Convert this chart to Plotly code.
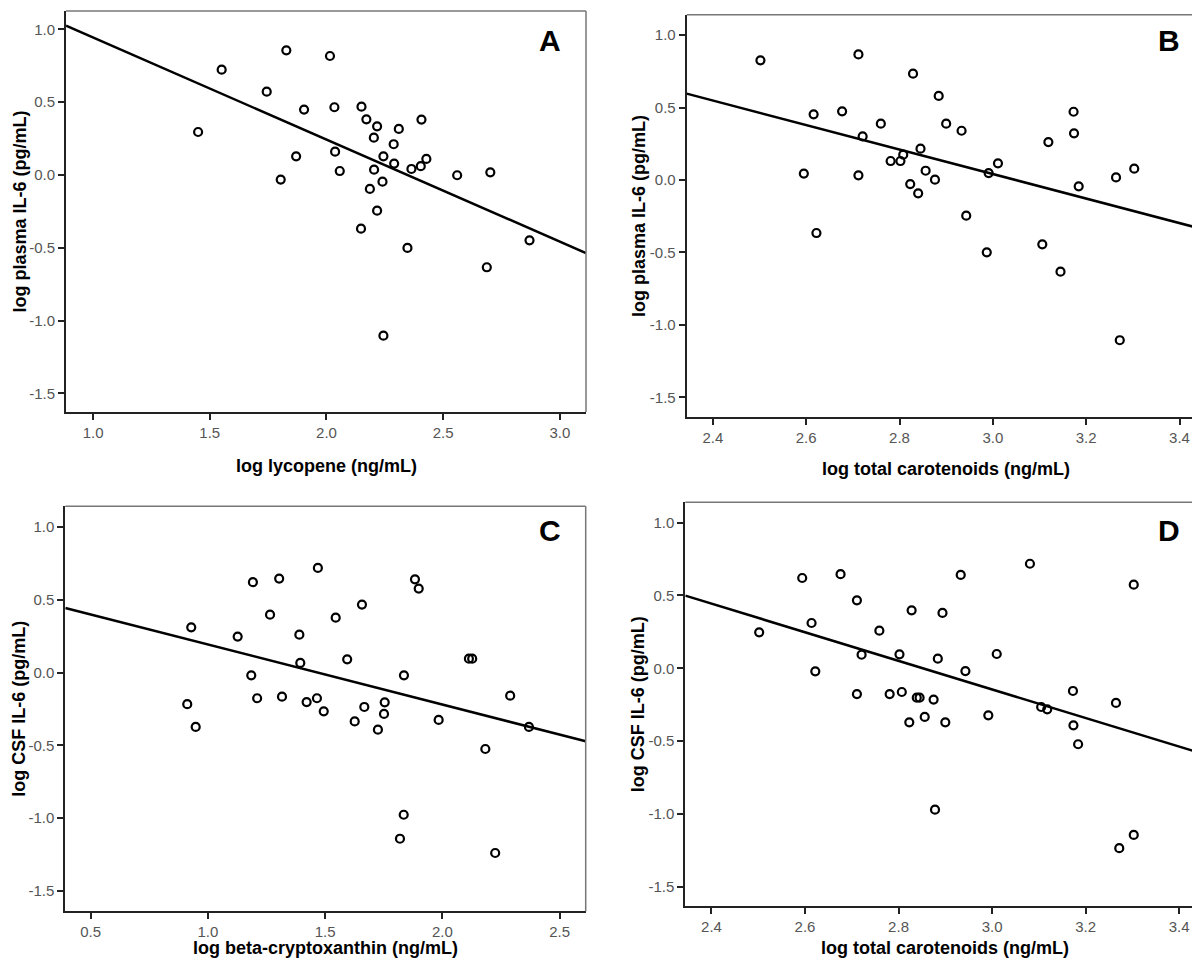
import plotly.graph_objects as go

# ---------------- data ----------------
# Panel A: log lycopene vs log plasma IL-6
a_x = [1.450, 1.551, 1.744, 1.828, 1.904, 1.870, 1.804, 2.015, 2.034, 2.150, 2.171, 2.217,
       2.203, 2.310, 2.407, 2.288, 2.037, 2.244, 2.057, 2.204, 2.290, 2.364, 2.404, 2.428,
       2.560, 2.702, 2.240, 2.186, 2.217, 2.148, 2.347, 2.687, 2.870, 2.244]
a_y = [0.295, 0.723, 0.572, 0.856, 0.449, 0.128, -0.032, 0.817, 0.465, 0.469, 0.382, 0.334,
       0.256, 0.316, 0.380, 0.211, 0.160, 0.128, 0.027, 0.036, 0.078, 0.041, 0.060, 0.110,
       -0.002, 0.018, -0.046, -0.096, -0.245, -0.369, -0.501, -0.634, -0.449, -1.104]
a_fit_x = [0.884, 3.112]
a_fit_y = [1.025, -0.536]

# Panel B: log total carotenoids vs log plasma IL-6
b_x = [2.502, 2.712, 2.616, 2.677, 2.760, 2.721, 2.781, 2.802, 2.808, 2.595, 2.712, 2.823,
       2.622, 2.829, 2.884, 2.900, 2.933, 2.845, 2.856, 2.876, 2.840, 2.991, 3.011, 2.943,
       3.119, 3.173, 3.174, 3.184, 3.264, 3.303, 2.987, 3.106, 3.145, 3.272]
b_y = [0.826, 0.867, 0.453, 0.474, 0.389, 0.301, 0.131, 0.131, 0.175, 0.044, 0.032, -0.028,
       -0.366, 0.734, 0.580, 0.389, 0.340, 0.216, 0.064, 0.002, -0.092, 0.048, 0.115, -0.246,
       0.262, 0.471, 0.322, -0.044, 0.018, 0.078, -0.499, -0.444, -0.633, -1.106]
b_fit_x = [2.344, 3.454]
b_fit_y = [0.596, -0.343]

# Panel C: log beta-cryptoxanthin vs log CSF IL-6
c_x = [0.929, 0.912, 0.948, 1.127, 1.192, 1.304, 1.265, 1.390, 1.394, 1.185, 1.210, 1.316,
       1.469, 1.545, 1.657, 1.594, 1.883, 1.899, 1.836, 2.113, 2.127, 1.421, 1.465, 1.494,
       1.626, 1.667, 1.754, 1.751, 1.725, 1.984, 2.289, 2.369, 2.183, 1.835, 1.819, 2.225]
c_y = [0.312, -0.217, -0.373, 0.248, 0.622, 0.647, 0.399, 0.261, 0.067, -0.018, -0.176, -0.165,
       0.720, 0.378, 0.468, 0.092, 0.642, 0.578, -0.018, 0.096, 0.096, -0.202, -0.176, -0.266,
       -0.335, -0.236, -0.204, -0.284, -0.392, -0.325, -0.158, -0.373, -0.525, -0.977, -1.142, -1.240]
c_fit_x = [0.392, 2.611]
c_fit_y = [0.445, -0.472]

# Panel D: log total carotenoids vs log CSF IL-6
d_x = [2.502, 2.594, 2.614, 2.622, 2.676, 2.711, 2.721, 2.711, 2.759, 2.781, 2.802, 2.807,
       2.823, 2.828, 2.839, 2.845, 2.856, 2.875, 2.878, 2.884, 2.894, 2.900, 2.933, 2.943,
       2.992, 3.010, 3.081, 3.105, 3.118, 3.173, 3.174, 3.184, 3.265, 3.303, 3.272, 3.303]
d_y = [0.247, 0.620, 0.311, -0.021, 0.646, 0.467, 0.093, -0.177, 0.258, -0.177, 0.096, -0.163,
       -0.371, 0.398, -0.202, -0.202, -0.334, -0.215, -0.971, 0.066, 0.380, -0.371, 0.641, -0.019,
       -0.323, 0.098, 0.718, -0.266, -0.282, -0.156, -0.392, -0.522, -0.238, 0.574, -1.236, -1.145]
d_fit_x = [2.344, 3.456]
d_fit_y = [0.499, -0.593]

y_ticks = [-1.5, -1.0, -0.5, 0.0, 0.5, 1.0]
y_tick_text = ["-1.5", "-1.0", "-0.5", "0.0", "0.5", "1.0"]
a_x_ticks = [1.0, 1.5, 2.0, 2.5, 3.0]
a_x_text = ["1.0", "1.5", "2.0", "2.5", "3.0"]
b_x_ticks = [2.4, 2.6, 2.8, 3.0, 3.2, 3.4]
b_x_text = ["2.4", "2.6", "2.8", "3.0", "3.2", "3.4"]
c_x_ticks = [0.5, 1.0, 1.5, 2.0, 2.5]
c_x_text = ["0.5", "1.0", "1.5", "2.0", "2.5"]

panel_letters = ["A", "B", "C", "D"]
x_titles = ["log lycopene (ng/mL)", "log total carotenoids (ng/mL)",
            "log beta-cryptoxanthin (ng/mL)", "log total carotenoids (ng/mL)"]
y_titles = ["log plasma IL-6 (pg/mL)", "log plasma IL-6 (pg/mL)",
            "log CSF IL-6 (pg/mL)", "log CSF IL-6 (pg/mL)"]

# ---------------- layout geometry ----------------
W, H = 1200, 963
panels = [
    dict(x=a_x, y=a_y, fx=a_fit_x, fy=a_fit_y, xt=a_x_ticks, xtt=a_x_text,
         xr=[0.884, 3.112], yr=[-1.628, 1.126], px=(58, 578), py=(3, 404),
         letter=(0.931, 0.926), xtitle_y=458, ytitle_x=11),
    dict(x=b_x, y=b_y, fx=b_fit_x, fy=b_fit_y, xt=b_x_ticks, xtt=b_x_text,
         xr=[2.344, 3.454], yr=[-1.638, 1.141], px=(678.7, 1196.7), py=(6.7, 409.3),
         letter=(0.931, 0.937), xtitle_y=461, ytitle_x=631),
    dict(x=c_x, y=c_y, fx=c_fit_x, fy=c_fit_y, xt=c_x_ticks, xtt=c_x_text,
         xr=[0.392, 2.611], yr=[-1.641, 1.144], px=(57.3, 577.7), py=(498.3, 903.3),
         letter=(0.932, 0.940), xtitle_y=940, ytitle_x=11),
    dict(x=d_x, y=d_y, fx=d_fit_x, fy=d_fit_y, xt=b_x_ticks, xtt=b_x_text,
         xr=[2.344, 3.456], yr=[-1.635, 1.140], px=(677.3, 1197.3), py=(494.3, 898.3),
         letter=(0.930, 0.930), xtitle_y=940, ytitle_x=630),
]

FONT = "Liberation Sans, Arial, sans-serif"
fig = go.Figure()
layout = dict(width=W, height=H, margin=dict(l=0, r=0, t=0, b=0),
              paper_bgcolor="white", plot_bgcolor="white", showlegend=False)
annotations = []
shapes = []

for i, p in enumerate(panels):
    n = i + 1
    xa = "x" if n == 1 else f"x{n}"
    ya = "y" if n == 1 else f"y{n}"
    xkey = "xaxis" if n == 1 else f"xaxis{n}"
    ykey = "yaxis" if n == 1 else f"yaxis{n}"
    xd = [p["px"][0] / W, p["px"][1] / W]
    yd = [1 - p["py"][1] / H, 1 - p["py"][0] / H]

    layout[xkey] = dict(domain=xd, range=p["xr"], anchor=ya, tickvals=p["xt"], ticktext=p["xtt"],
                        showgrid=False, zeroline=False, showline=True, linecolor="#222",
                        linewidth=2, ticks="outside", ticklen=6, tickwidth=1.5, tickcolor="#222",
                        tickfont=dict(family=FONT, size=15, color="#555"))
    layout[ykey] = dict(domain=yd, range=p["yr"], anchor=xa, tickvals=y_ticks, ticktext=y_tick_text,
                        showgrid=False, zeroline=False, showline=True, linecolor="#222",
                        linewidth=2, ticks="outside", ticklen=6, tickwidth=1.5, tickcolor="#222",
                        tickfont=dict(family=FONT, size=15, color="#555"))

    # top / right frame (grey)
    shapes.append(dict(type="line", xref=f"{xa} domain", yref=f"{ya} domain",
                       x0=0, x1=1, y0=1, y1=1, line=dict(color="#777", width=1.5)))
    shapes.append(dict(type="line", xref=f"{xa} domain", yref=f"{ya} domain",
                       x0=1, x1=1, y0=0, y1=1, line=dict(color="#777", width=1.5)))

    fig.add_trace(go.Scatter(x=p["fx"], y=p["fy"], mode="lines", xaxis=xa, yaxis=ya,
                             line=dict(color="black", width=2.5), hoverinfo="skip"))
    fig.add_trace(go.Scatter(x=p["x"], y=p["y"], mode="markers", xaxis=xa, yaxis=ya,
                             marker=dict(symbol="circle-open", size=8, color="black",
                                         line=dict(width=2.2, color="black"))))

    annotations.append(dict(text=f"<b>{panel_letters[i]}</b>", xref=f"{xa} domain",
                            yref=f"{ya} domain", x=p["letter"][0], y=p["letter"][1],
                            showarrow=False, xanchor="center", yanchor="middle",
                            font=dict(family=FONT, size=30, color="black")))
    annotations.append(dict(text=f"<b>{x_titles[i]}</b>", xref="paper", yref="paper",
                            x=(xd[0] + xd[1]) / 2, y=1 - p["xtitle_y"] / H,
                            showarrow=False, xanchor="center", yanchor="middle",
                            font=dict(family=FONT, size=18, color="black")))
    annotations.append(dict(text=f"<b>{y_titles[i]}</b>", xref="paper", yref="paper",
                            x=p["ytitle_x"] / W, y=(yd[0] + yd[1]) / 2, textangle=-90,
                            showarrow=False, xanchor="center", yanchor="middle",
                            font=dict(family=FONT, size=18, color="black")))

layout["annotations"] = annotations
layout["shapes"] = shapes
fig.update_layout(**layout)
fig.write_html("out.html")
